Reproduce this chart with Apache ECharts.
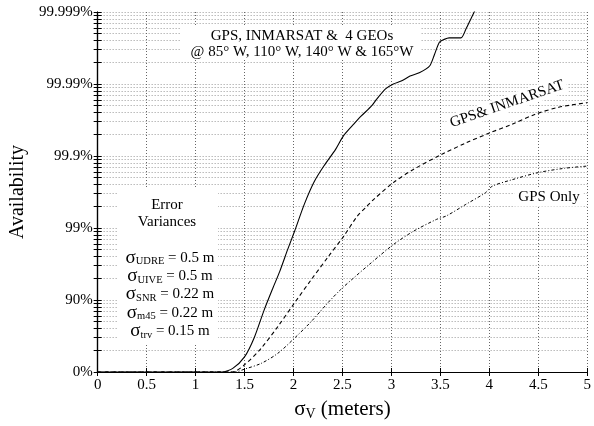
<!DOCTYPE html>
<html>
<head>
<meta charset="utf-8">
<script src="https://cdn.jsdelivr.net/npm/echarts@6/dist/echarts.min.js"></script>
<style>
    html, body { margin: 0; padding: 0; background: #fff; }
    #chart { width: 594px; height: 426px; }
</style>
</head>
<body>
<div id="chart"></div>
<script>
// availability in percent
const gpsGeoData = [
    [0, 0], [1.27, 0], [1.38, 10.9], [1.50, 38.3], [1.60, 66.9], [1.70, 86.2],
    [1.79, 93.2], [1.86, 96.0], [1.94, 98.0], [2.01, 98.88], [2.11, 99.53],
    [2.21, 99.77], [2.31, 99.862], [2.43, 99.919], [2.51, 99.9475], [2.62, 99.9645],
    [2.69, 99.972], [2.80, 99.980], [2.85, 99.9838], [2.94, 99.9883], [3.02, 99.990],
    [3.10, 99.99088], [3.19, 99.99224], [3.29, 99.99308], [3.39, 99.99438],
    [3.44, 99.99611], [3.49, 99.99737], [3.54, 99.9976], [3.59, 99.99771],
    [3.71, 99.99771], [3.76, 99.99826], [3.81, 99.99874], [3.86, 99.99909]
]
const gpsInmarsatData = [
    [0, 0], [1.37, 0], [1.50, 20.6], [1.67, 53.2], [1.84, 76.6], [2.01, 89.0],
    [2.18, 94.75], [2.36, 97.55], [2.51, 98.68], [2.65, 99.31], [2.75, 99.50],
    [2.82, 99.60], [3.02, 99.766], [3.22, 99.845], [3.51, 99.9045], [3.76, 99.934],
    [4.00, 99.952], [4.23, 99.9637], [4.47, 99.9737], [4.71, 99.979], [5.00, 99.9818]
]
const gpsOnlyData = [
    [0, 0], [1.40, 0], [1.50, 8.8], [1.67, 24.1], [1.84, 45.0], [2.01, 66.1],
    [2.18, 80.0], [2.35, 89.0], [2.48, 92.8], [2.61, 95.0], [2.78, 96.84],
    [3.02, 98.30], [3.22, 98.88], [3.46, 99.24], [3.56, 99.32], [3.76, 99.53],
    [3.96, 99.676], [4.03, 99.737], [4.23, 99.786], [4.50, 99.83], [4.77, 99.852],
    [5.00, 99.862]
]
const yLabels = ['0%', '90%', '99%', '99.9%', '99.99%', '99.999%']

const serif = "'Liberation Serif', 'Times New Roman', serif"

// availability -> number of nines
function nines(a) {
    if (a >= 100) return yLabels.length - 1
    return -Math.log10(1 - a / 100)
}
function toNines(list) {
    return list.map(p => [p[0], nines(p[1])])
}

// major + minor positions (log spacing inside every decade)
let yTicks = []
for (let k = 0; k < yLabels.length - 1; k++) {
    yTicks.push(k)
    for (let j = 2; j <= 9; j++) yTicks.push(k + Math.log10(j))
}
yTicks.push(yLabels.length - 1)
let yMajor = yLabels.map((l, i) => i)

const myChart = echarts.init(document.getElementById('chart'))

const blackAxis = { lineStyle: { color: '#000', width: 1.2 } }

let option = {
    animation: false,
    backgroundColor: '#fff',
    grid: { left: 95, right: 5, top: 12, bottom: 54 },
    xAxis: [
        {
            type: 'value',
            min: 0,
            max: 5,
            interval: 0.5,
            name: '{s|σ}{sub|V}{s| (meters)}',
            nameLocation: 'middle',
            nameGap: 26,
            nameTextStyle: {
                rich: {
                    s: { fontFamily: serif, fontSize: 21, color: '#000' },
                    sub: { fontFamily: serif, fontSize: 14, color: '#000', padding: [9, 0, 0, 0] }
                }
            },
            axisLine: blackAxis,
            axisTick: { inside: true, length: 4, lineStyle: { color: '#000' } },
            axisLabel: { fontFamily: serif, fontSize: 15, color: '#000', margin: 6 },
            splitLine: { lineStyle: { color: '#666', type: [1, 2], width: 1 } }
        },
        {
            type: 'value',
            position: 'top',
            min: 0,
            max: 5,
            interval: 0.5,
            axisLine: blackAxis,
            axisTick: { inside: true, length: 4, lineStyle: { color: '#000' } },
            axisLabel: { show: false },
            splitLine: { show: false }
        }
    ],
    yAxis: [
        {
            type: 'value',
            min: 0,
            max: 5,
            name: 'Availability',
            nameLocation: 'middle',
            nameGap: 66,
            nameTextStyle: { fontFamily: serif, fontSize: 20, color: '#000' },
            axisLine: blackAxis,
            axisTick: { inside: true, length: 4, customValues: yTicks, lineStyle: { color: '#000' } },
            axisLabel: {
                customValues: yMajor,
                fontFamily: serif,
                fontSize: 15,
                color: '#000',
                margin: 5,
                padding: [0, 0, 3, 0],
                formatter: v => yLabels[Math.round(v)]
            },
            splitLine: { lineStyle: { color: '#999', type: [1, 2], width: 1 } }
        },
        {
            type: 'value',
            position: 'right',
            min: 0,
            max: 5,
            axisLine: blackAxis,
            axisTick: { inside: true, length: 4, customValues: yTicks, lineStyle: { color: '#000' } },
            axisLabel: { show: false },
            splitLine: { show: false }
        }
    ],
    series: [
        {
            name: 'GPS, INMARSAT & 4 GEOs',
            type: 'line',
            data: toNines(gpsGeoData),
            showSymbol: false,
            smooth: 0.25,
            lineStyle: { color: '#000', width: 1.1, type: 'solid' },
            z: 3
        },
        {
            name: 'GPS& INMARSAT',
            type: 'line',
            data: toNines(gpsInmarsatData),
            showSymbol: false,
            smooth: 0.3,
            lineStyle: { color: '#000', width: 1.1, type: [4, 3] },
            z: 3
        },
        {
            name: 'GPS Only',
            type: 'line',
            data: toNines(gpsOnlyData),
            showSymbol: false,
            smooth: 0.3,
            lineStyle: { color: '#000', width: 1, type: [3, 2, 1, 2] },
            z: 3
        }
    ],
    graphic: [
        // white patches under the annotations
        { type: 'rect', z: 1, shape: { x: 180, y: 27, width: 241, height: 32 }, style: { fill: '#fff' } },
        { type: 'rect', z: 1, shape: { x: 117, y: 187, width: 101, height: 156 }, style: { fill: '#fff' } },
        {
            type: 'text', z: 2, x: 302, y: 36,
            style: { text: 'GPS, INMARSAT &  4 GEOs', font: '15px ' + serif, fill: '#000', align: 'center', verticalAlign: 'middle' }
        },
        {
            type: 'text', z: 2, x: 302, y: 52,
            style: { text: '@ 85° W, 110° W, 140° W & 165°W', font: '15px ' + serif, fill: '#000', align: 'center', verticalAlign: 'middle' }
        },
        {
            type: 'text', z: 2, x: 167, y: 205,
            style: { text: 'Error', font: '15px ' + serif, fill: '#000', align: 'center', verticalAlign: 'middle' }
        },
        {
            type: 'text', z: 2, x: 167, y: 222,
            style: { text: 'Variances', font: '15px ' + serif, fill: '#000', align: 'center', verticalAlign: 'middle' }
        },
        ...[
            ['UDRE', ' = 0.5 m', 258],
            ['UIVE', ' = 0.5 m', 276.5],
            ['SNR', ' = 0.22 m', 294.5],
            ['m45', ' = 0.22 m', 313],
            ['trv', ' = 0.15 m', 331.5]
        ].map(r => ({
            type: 'text', z: 2, x: 170, y: r[2],
            style: {
                text: '{s|σ}{sub|' + r[0] + '}{t|' + r[1] + '}',
                align: 'center',
                verticalAlign: 'middle',
                rich: {
                    s: { fontFamily: serif, fontSize: 19, fill: '#000' },
                    sub: { fontFamily: serif, fontSize: 10.5, fill: '#000', padding: [7, 0, 0, 0] },
                    t: { fontFamily: serif, fontSize: 15, fill: '#000' }
                }
            }
        })),
        {
            type: 'text', z: 2, x: 507, y: 104, rotation: 19 * Math.PI / 180,
            style: {
                text: 'GPS& INMARSAT', font: '15px ' + serif, fill: '#000',
                align: 'center', verticalAlign: 'middle', backgroundColor: '#fff', padding: [1, 3]
            }
        },
        {
            type: 'text', z: 2, x: 549, y: 197,
            style: {
                text: 'GPS Only', font: '15px ' + serif, fill: '#000',
                align: 'center', verticalAlign: 'middle', backgroundColor: '#fff', padding: [2, 4]
            }
        }
    ]
}

myChart.setOption(option)
</script>
</body>
</html>
